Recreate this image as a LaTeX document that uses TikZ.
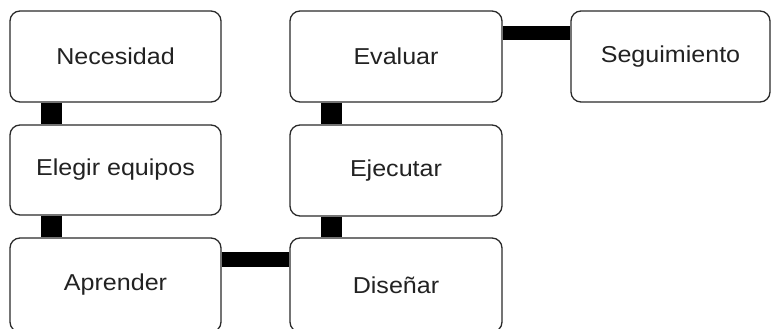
\documentclass[tikz,border=0pt]{standalone}
\usepackage{fontspec}
\setmainfont{Liberation Sans}
\definecolor{edge}{HTML}{2A2A2A}
\definecolor{txt}{HTML}{222222}
\tikzset{
  stepbox/.style={draw=edge, line width=1.3pt, rounded corners=10pt, fill=white,
    minimum width=211pt, minimum height=91pt, inner sep=0pt, text=txt,
    font=\fontsize{23}{27}\selectfont},
  vbar/.style={line width=21pt, draw=black},
  hbar/.style={line width=14.5pt, draw=black},
}
\newcommand{\wtxt}[1]{\scalebox{1.09}[1]{#1}}
\begin{document}
\begin{tikzpicture}[x=1pt,y=-1pt]
\useasboundingbox (0,0) rectangle (771,329);
\node[stepbox] (nec) at (115.5,56.5) {\wtxt{Necesidad}};
\node[stepbox, minimum height=90pt] (ele) at (115.5,170) {\wtxt{Elegir equipos}};
\node[stepbox, minimum height=94pt] (apr) at (115.5,285) {\wtxt{Aprender}};
\node[stepbox, minimum width=212pt] (eva) at (396,56.5) {\wtxt{Evaluar}};
\node[stepbox, minimum width=212pt] (eje) at (396,170.5) {\wtxt{Ejecutar}};
\node[stepbox, minimum width=212pt, minimum height=94pt] (dis) at (396,285) {\wtxt{Diseñar}};
\node[stepbox, minimum width=199pt] (seg) at (670.5,56.5) {\wtxt{Seguimiento}};
\draw[vbar] ([xshift=42.5pt]nec.south west) -- ([xshift=42.5pt]ele.north west);
\draw[vbar] ([xshift=42.5pt]ele.south west) -- ([xshift=42.5pt]apr.north west);
\draw[vbar] ([xshift=42.5pt]eva.south west) -- ([xshift=42.5pt]eje.north west);
\draw[vbar] ([xshift=42.5pt]eje.south west) -- ([xshift=42.5pt]dis.north west);
\draw[hbar] ([yshift=-22pt]apr.north east) -- ([yshift=-22pt]dis.north west);
\draw[hbar] ([yshift=-22.5pt]eva.north east) -- ([yshift=-22.5pt]seg.north west);
\end{tikzpicture}
\end{document}
